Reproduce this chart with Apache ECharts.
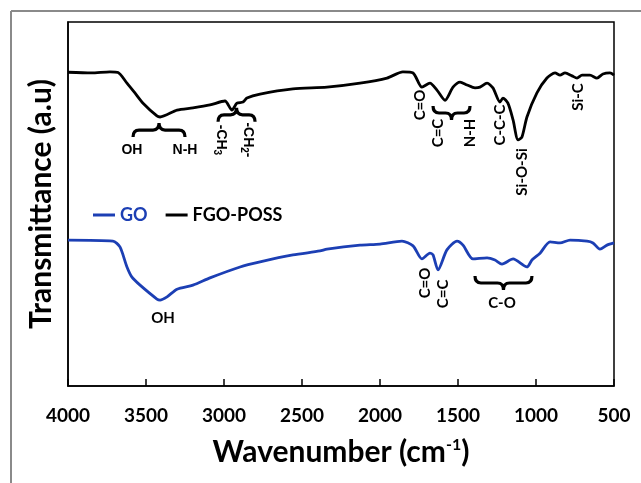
<!DOCTYPE html>
<html>
<head>
<meta charset="utf-8">
<script src="https://cdn.jsdelivr.net/npm/echarts@6/dist/echarts.min.js"></script>
<style>
  html, body { margin: 0; padding: 0; background: #fff; }
  #main { width: 641px; height: 483px; }
</style>
</head>
<body>
<div id="main"></div>
<script>
// FTIR spectra, wavenumber (cm-1) vs transmittance (a.u, offset)
var fgoWave = [4000, 3850, 3731, 3679, 3622, 3571, 3519, 3430, 3410, 3301, 3199, 3090, 2994, 2949, 2917, 2878, 2853, 2769, 2558, 2340, 2128, 1955, 1853, 1788, 1731, 1680, 1635, 1583, 1532, 1487, 1442, 1391, 1359, 1314, 1276, 1231, 1212, 1180, 1147, 1115, 1090, 1058, 994, 930, 878, 846, 814, 769, 737, 705, 654, 609, 571, 526, 500];
var fgoTrans = [86.2, 86.0, 86.3, 86.1, 83.2, 80.5, 77.7, 74.2, 73.9, 75.8, 76.4, 77.2, 78.3, 75.8, 77.7, 78.0, 79.1, 80.2, 81.6, 82.1, 83.2, 84.6, 86.3, 86.0, 82.1, 83.2, 81.3, 78.5, 82.1, 83.5, 82.7, 81.9, 82.1, 83.2, 81.9, 78.0, 79.1, 77.7, 73.1, 67.6, 68.4, 73.9, 80.5, 84.6, 86.0, 85.4, 86.0, 85.2, 84.6, 85.4, 85.4, 84.6, 85.7, 86.0, 85.4];

var goWave = [4000, 3712, 3667, 3622, 3590, 3538, 3430, 3410, 3365, 3301, 3199, 3090, 2897, 2769, 2558, 2385, 2340, 2128, 2000, 1859, 1788, 1731, 1680, 1660, 1628, 1571, 1506, 1468, 1404, 1314, 1263, 1218, 1147, 1058, 1026, 974, 910, 846, 782, 673, 635, 590, 545, 500];
var goTrans = [40.1, 39.8, 38.2, 32.7, 29.9, 27.7, 23.9, 23.6, 24.5, 26.6, 27.7, 29.7, 32.7, 34.1, 36.0, 37.1, 37.6, 38.7, 39.0, 39.8, 38.5, 34.9, 36.5, 36.0, 31.9, 37.4, 39.8, 38.7, 34.9, 35.2, 34.6, 33.5, 34.9, 32.7, 34.6, 36.5, 39.6, 39.3, 40.1, 39.8, 39.3, 37.6, 38.7, 39.3];

// peak assignments: text, wavenumber, transmittance, rotation (deg), font
var noteText = ['OH', 'N-H', '-CH{s|3}', '-CH{s|2}-', 'C=O', 'C=C', 'N-H', 'C-C-C', 'Si-O-Si', 'Si-C', 'OH', 'C=O', 'C=C', 'C-O'];
var noteWave = [3590, 3250, 3019, 2846, 1744, 1628, 1423, 1231, 1090, 731, 3391, 1712, 1596, 1218];
var noteTrans = [64.8, 64.8, 67.6, 67.6, 77.2, 69.5, 69.5, 71.7, 58.8, 79.4, 18.7, 28.3, 25.3, 22.8];
var noteRot = [0, 0, -90, -90, 90, 90, 90, 90, 90, 90, 0, 90, 90, 0];
var noteArial = [1, 1, 1, 1, 0, 0, 0, 0, 0, 0, 0, 0, 0, 0];

// curly braces: from, to, level, direction (1 = tip down, -1 = tip up)
var braceFrom = [3583, 3038, 1660, 1391];
var braceTo = [3250, 2801, 1423, 1026];
var braceLevel = [70.3, 74.5, 75.0, 28.3];
var braceDir = [-1, -1, 1, 1];

var blue = '#1c3fb4';
var chart = echarts.init(document.getElementById('main'));

function pairs(xs, ys) {
  return xs.map(function (x, i) { return [x, ys[i]]; });
}

function bracePath(x1, x2, y, d) {
  var h = 7, r = 6;
  var a = Math.min(x1, x2), b = Math.max(x1, x2), m = (a + b) / 2;
  var yEnd = y - d * h, yTip = y + d * h;
  return 'M' + a + ',' + yEnd +
    ' Q' + a + ',' + y + ' ' + (a + r) + ',' + y +
    ' L' + (m - r) + ',' + y +
    ' Q' + m + ',' + y + ' ' + m + ',' + yTip +
    ' Q' + m + ',' + y + ' ' + (m + r) + ',' + y +
    ' L' + (b - r) + ',' + y +
    ' Q' + b + ',' + y + ' ' + b + ',' + yEnd;
}

var option = {
  animation: false,
  backgroundColor: '#fff',
  grid: {
    left: 68, right: 27, top: 22, bottom: 97,
    show: true, borderColor: '#000', borderWidth: 1.5
  },
  legend: {
    left: 88, top: 201,
    icon: 'rect', itemWidth: 22, itemHeight: 3, itemGap: 18,
    textStyle: { fontFamily: 'Lato', fontWeight: 'bold', fontSize: 18 },
    data: [
      { name: 'GO', textStyle: { color: blue } },
      { name: 'FGO-POSS', textStyle: { color: '#000' } }
    ]
  },
  xAxis: {
    type: 'value', inverse: true, min: 500, max: 4000, interval: 500,
    splitLine: { show: false },
    axisLine: { lineStyle: { color: '#000', width: 1.5 } },
    axisTick: { inside: true, length: 7, lineStyle: { color: '#000', width: 1.5 } },
    axisLabel: {
      margin: 20, color: '#000', fontFamily: 'Lato', fontWeight: 'bold', fontSize: 19,
      formatter: function (v) { return String(v); }
    },
    name: 'Wavenumber (cm{sup|-1})',
    nameLocation: 'middle', nameGap: 51,
    nameTextStyle: {
      color: '#000', fontFamily: 'Lato', fontWeight: 'bold', fontSize: 30,
      rich: { sup: { fontFamily: 'Lato', fontWeight: 'bold', fontSize: 16, color: '#000', padding: [0, 0, 15, 0] } }
    }
  },
  yAxis: {
    type: 'value', min: 0, max: 100,
    splitLine: { show: false },
    axisLine: { show: true, lineStyle: { color: '#000', width: 1.5 } },
    axisTick: { show: false },
    axisLabel: { show: false },
    name: 'Transmittance (a.u)',
    nameLocation: 'middle', nameGap: 12, nameRotate: 90,
    nameTextStyle: { color: '#000', fontFamily: 'Lato', fontWeight: 'bold', fontSize: 30 }
  },
  graphic: [
    { type: 'line', shape: { x1: 11, y1: 11, x2: 641, y2: 11 }, style: { stroke: '#8a8a8a', lineWidth: 2 } },
    { type: 'line', shape: { x1: 11, y1: 11, x2: 11, y2: 483 }, style: { stroke: '#8a8a8a', lineWidth: 2 } }
  ],
  series: [
    {
      name: 'GO', type: 'line', data: pairs(goWave, goTrans),
      showSymbol: false, smooth: 0.25,
      lineStyle: { color: blue, width: 2.8 }, itemStyle: { color: blue }
    },
    {
      name: 'FGO-POSS', type: 'line', data: pairs(fgoWave, fgoTrans),
      showSymbol: false, smooth: 0.25,
      lineStyle: { color: '#000', width: 2.8 }, itemStyle: { color: '#000' }
    },
    {
      type: 'custom', silent: true, clip: false,
      data: braceFrom.map(function (f, i) { return [f, braceTo[i], braceLevel[i], braceDir[i]]; }),
      encode: { x: [0, 1], y: 2 },
      renderItem: function (params, api) {
        var p1 = api.coord([api.value(0), api.value(2)]);
        var p2 = api.coord([api.value(1), api.value(2)]);
        return {
          type: 'path',
          shape: { pathData: bracePath(p1[0], p2[0], p1[1], api.value(3)) },
          style: { stroke: '#000', lineWidth: 3.2, fill: null }
        };
      }
    },
    {
      type: 'custom', silent: true, clip: false,
      data: noteWave.map(function (w, i) { return [w, noteTrans[i], i]; }),
      encode: { x: 0, y: 1 },
      renderItem: function (params, api) {
        var i = api.value(2);
        var p = api.coord([api.value(0), api.value(1)]);
        return {
          type: 'text', x: p[0], y: p[1],
          rotation: noteRot[i] * Math.PI / 180,
          style: {
            text: noteText[i], fill: '#000',
            font: noteArial[i] ? 'bold 14px "Liberation Sans"' : 'bold 15px Lato',
            align: 'center', verticalAlign: 'middle',
            rich: { s: { font: 'bold 10px "Liberation Sans"', fill: '#000', padding: [8, 0, 0, 0] } }
          }
        };
      }
    }
  ]
};

chart.setOption(option);
</script>
</body>
</html>
